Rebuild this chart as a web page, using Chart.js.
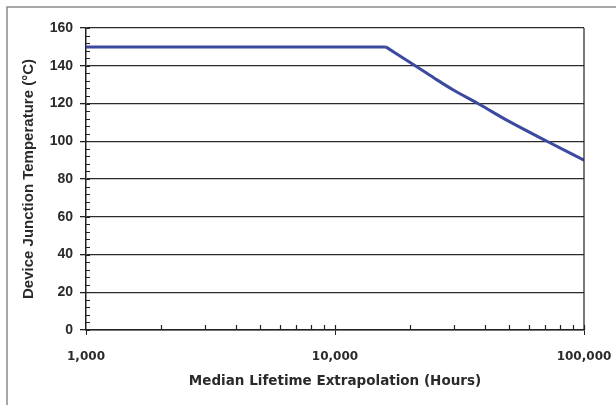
<!DOCTYPE html>
<html>
<head>
<meta charset="utf-8">
<script src="https://cdn.jsdelivr.net/npm/chart.js@4"></script>
<style>
html,body{margin:0;padding:0;background:#fff;}
#wrap{width:616px;height:405px;position:relative;}
</style>
</head>
<body>
<div id="wrap"><canvas id="c" width="616" height="405"></canvas></div>
<script>
// Data
const hours = [1000, 16000, 21000, 25000, 30000, 37500, 50000, 71000, 100000];
const tempC = [150, 150, 140, 133.5, 127, 120, 110.5, 100, 90];
const kneeIndex = 1; // end of the flat 150 °C plateau
const xMajorTicks = [1000, 10000, 100000];
const yTickStep = 20;
const yMinorStep = 4;
const xTitle = 'Median Lifetime Extrapolation (Hours)';
const yTitle = 'Device Junction Temperature (\u00B0C)';

const points = hours.map((h, i) => ({x: h, y: tempC[i]}));
const plateau = points.slice(0, kneeIndex + 1);
const derating = points.slice(kneeIndex);

const decor = {
  id: 'decor',
  beforeDraw(chart) {
    const ctx = chart.ctx;
    ctx.save();
    ctx.fillStyle = '#fff';
    ctx.fillRect(0, 0, chart.width, chart.height);
    ctx.strokeStyle = '#8a8a8a';
    ctx.lineWidth = 1.5;
    ctx.strokeRect(7, 7, chart.width + 20, chart.height + 20);
    ctx.restore();
  },
  afterDraw(chart) {
    const ctx = chart.ctx;
    const a = chart.chartArea;
    const xs = chart.scales.x, ys = chart.scales.y;
    ctx.save();
    ctx.strokeStyle = '#222';
    ctx.lineWidth = 1.2;
    ctx.beginPath();
    ctx.moveTo(a.right, a.top); ctx.lineTo(a.right, a.bottom);
    for (let v = 0; v <= ys.max; v += yMinorStep) {
      const py = Math.round(ys.getPixelForValue(v)) + 0.5;
      ctx.moveTo(a.left, py); ctx.lineTo(a.left + 4, py);
    }
    for (let d = 1000; d < xs.max; d *= 10) {
      for (let k = 2; k <= 10; k++) {
        const px = Math.round(xs.getPixelForValue(d * k)) + 0.5;
        ctx.moveTo(px, a.bottom); ctx.lineTo(px, a.bottom - 5);
      }
    }
    ctx.stroke();
    ctx.restore();
  }
};

const lineStyle = {borderColor: '#3b4a9e', borderWidth: 3, pointRadius: 0, fill: false, borderJoinStyle: 'miter'};

new Chart(document.getElementById('c'), {
  type: 'line',
  data: {
    datasets: [
      Object.assign({data: plateau, tension: 0}, lineStyle),
      Object.assign({data: derating, cubicInterpolationMode: 'monotone'}, lineStyle)
    ]
  },
  options: {
    responsive: false,
    animation: false,
    devicePixelRatio: 1,
    plugins: {legend: {display: false}, tooltip: {enabled: false}},
    layout: {padding: {top: 28, right: 32, left: 0, bottom: 0}},
    scales: {
      x: {
        type: 'logarithmic',
        min: 1000,
        max: 100000,
        afterFit(s) { s.height = 75; s.paddingRight = 0; s.paddingLeft = 0; },
        afterBuildTicks(s) { s.ticks = xMajorTicks.map(v => ({value: v})); },
        border: {display: true, color: '#222', width: 1.5},
        grid: {display: true, drawOnChartArea: false, drawTicks: true, tickLength: 5, color: '#222', tickColor: '#222'},
        ticks: {
          color: '#2a2a2a',
          padding: 15,
          maxRotation: 0,
          autoSkip: false,
          font: {family: 'DejaVu Sans', size: 12, weight: 'bold'},
          callback: v => Number(v).toLocaleString('en-US')
        },
        title: {
          display: true,
          text: xTitle,
          color: '#2a2a2a',
          font: {family: 'DejaVu Sans', size: 13.5, weight: 'bold'},
          padding: {top: 0, bottom: 15}
        }
      },
      y: {
        min: 0,
        max: 160,
        afterFit(s) { s.width = 86; s.paddingTop = 0; s.paddingBottom = 0; },
        border: {display: true, color: '#222', width: 1.5},
        grid: {color: '#2a2a2a', lineWidth: 1.3, tickLength: 6, tickColor: '#222'},
        ticks: {
          stepSize: yTickStep,
          color: '#2a2a2a',
          padding: 7,
          font: {family: 'Liberation Sans Narrow, Liberation Sans', size: 14, weight: 'bold'}
        },
        title: {
          display: true,
          text: yTitle,
          color: '#2a2a2a',
          font: {family: 'Liberation Sans', size: 15, weight: 'bold'},
          padding: {top: 19.5, bottom: 0}
        }
      }
    }
  },
  plugins: [decor]
});
</script>
</body>
</html>
